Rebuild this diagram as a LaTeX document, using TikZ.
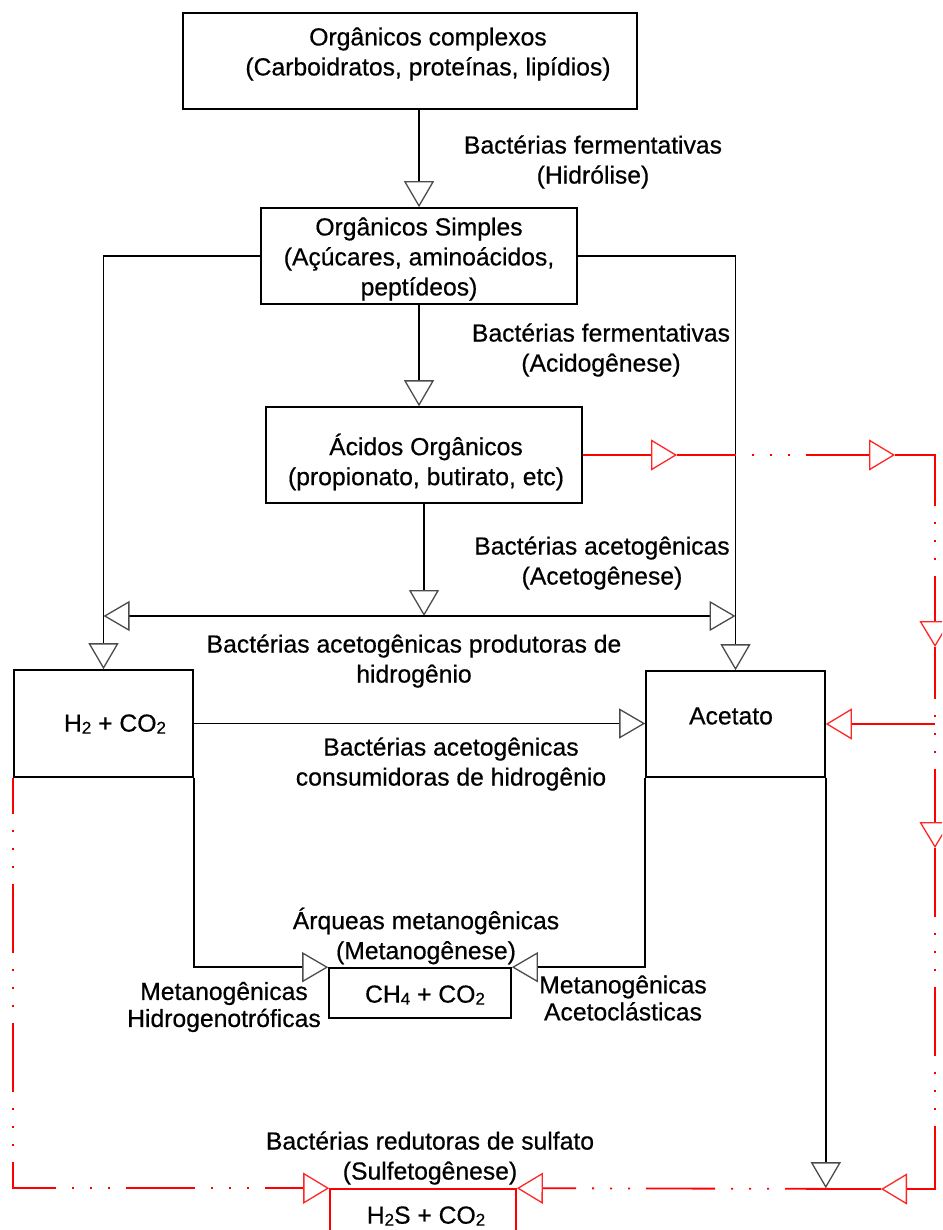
\documentclass[tikz,border=0pt]{standalone}
\usepackage{fontspec}
\setmainfont{Liberation Sans}[FakeBold=0.5]
\usetikzlibrary{arrows.meta}
\newcommand{\sbs}[1]{\raisebox{-2pt}{\fontsize{17}{17}\selectfont #1}}
\begin{document}
\begin{tikzpicture}[x=1pt,y=-1pt,
  font=\fontsize{24.7}{30}\selectfont,
  box/.style={draw=black, line width=1.6pt, inner sep=0pt},
  txt/.style={align=center, inner sep=0pt},
  blk/.style={draw=black, line width=1.6pt, -{Triangle[length=26pt,width=30pt,fill=white,color=black!70,line width=1.3pt]}},
  rarr/.style={draw=red, line width=1.8pt, line cap=butt, -{Triangle[length=26pt,width=31pt,fill=white,color=red!85,line width=1.3pt]}},
  ddp/.style={dash pattern=on 69pt off 16pt on 2pt off 16pt on 2pt off 16pt on 2pt off 16pt}
]
\clip (0,0) rectangle (942,1230);
\fill[white] (0,0) rectangle (942,1230);

% boxes
\node[box, minimum width=454pt, minimum height=96pt] (oc) at (410,61) {};
\node[txt] (octxt) at (428,54) {Orgânicos complexos\\(Carboidratos, proteínas, lipídios)};

\node[box, minimum width=316pt, minimum height=96pt] (os) at (419,256) {};
\node[txt] (ostxt) at (419,259) {Orgânicos Simples\\(Açúcares, aminoácidos,\\peptídeos)};

\node[box, minimum width=316pt, minimum height=96pt] (ao) at (424,455) {};
\node[txt] (aotxt) at (426,462) {Ácidos Orgânicos\\(propionato, butirato, etc)};

\node[box, minimum width=179pt, minimum height=107pt] (h2) at (103.5,723.5) {};
\node[txt] (h2txt) at (115,724) {H\sbs{2} + CO\sbs{2}};

\node[box, minimum width=179pt, minimum height=106pt] (ac) at (735.5,724) {};
\node[txt] (actxt) at (731,716) {Acetato};

\node[box, minimum width=182pt, minimum height=50pt] (ch4) at (420,993) {};
\node[txt] (ch4txt) at (425,995) {CH\sbs{4} + CO\sbs{2}};

\node[box, draw=red, minimum width=186pt, minimum height=80pt] (h2s) at (423,1229) {};
\node[txt] (h2stxt) at (426,1216) {H\sbs{2}S + CO\sbs{2}};

% labels
\node[txt] (l1) at (593,162) {Bactérias fermentativas\\(Hidrólise)};
\node[txt] (l2) at (601,350) {Bactérias fermentativas\\(Acidogênese)};
\node[txt] (l3) at (602,563) {Bactérias acetogênicas\\(Acetogênese)};
\node[txt] (l4) at (414,661) {Bactérias acetogênicas produtoras de\\hidrogênio};
\node[txt] (l5) at (451,764) {Bactérias acetogênicas\\consumidoras de hidrogênio};
\node[txt] (l6) at (426,936) {Árqueas metanogênicas\\(Metanogênese)};
\node[txt, font=\fontsize{24.7}{27}\selectfont] (l7) at (224,1007) {Metanogênicas\\Hidrogenotróficas};
\node[txt, font=\fontsize{24.7}{27}\selectfont] (l8) at (623,998) {Metanogênicas\\Acetoclásticas};
\node[txt] (l9) at (430,1158) {Bactérias redutoras de sulfato\\(Sulfetogênese)};

% coordinates
\coordinate (mid) at (424,616);
\coordinate (r1) at (677,455);
\coordinate (r2) at (895,455);
\coordinate (rc1) at (935,455);
\coordinate (r3) at (935,647);
\coordinate (r4) at (935,848);
\coordinate (rc2) at (935,1189);
\coordinate (r5) at (881,1189);
\coordinate (r6) at (935,724);

% black connectors
\draw[blk] (oc.south -| os.north) -- (os.north);
\draw[blk] (os.west) -| (h2.north);
\draw[blk] (os.east) -| (ac.north);
\draw[blk] (os.south) -- (os.south |- ao.north);
\draw[blk] (ao.south) -- (mid);
\draw[blk] (mid) -- (mid -| h2.north);
\draw[blk] (mid) -- (mid -| ac.north);
\draw[blk] (h2.east) -- (h2.east -| ac.west);
\draw[blk] (h2.south east) |- (ch4.north west);
\draw[blk] (ac.south west) |- (ch4.north east);
\draw[blk] (ac.south east) -- (ac.south east |- h2s.north);

% red connectors
\draw[rarr] (ao.east) -- (r1);
\draw[rarr, ddp, dash phase=10pt] (r1) -- (r2);
\draw[rarr, dash pattern=on 91pt off 16pt on 2pt off 16pt on 2pt off 16pt on 2pt off 16pt on 300pt] (r2) -- (rc1) -- (r3);
\draw[rarr, ddp, dash phase=17pt] (r3) -- (r4);
\draw[rarr, dash pattern=on 69pt off 16pt on 2pt off 16pt on 2pt off 16pt on 2pt off 16pt on 69pt off 16pt on 2pt off 16pt on 2pt off 16pt on 2pt off 16pt on 300pt] (r4) -- (rc2) -- (r5);
\draw[rarr, dash pattern=on 96pt off 16pt on 2pt off 16pt on 2pt off 16pt on 2pt off 16pt on 69pt off 16pt on 2pt off 16pt on 2pt off 16pt on 2pt off 16pt on 300pt] (r5) -- (h2s.north east);
\draw[rarr, ddp, dash phase=33pt] (h2.south west) |- (h2s.north west);
\draw[rarr] (r6) -- (ac.east);
\end{tikzpicture}
\end{document}
